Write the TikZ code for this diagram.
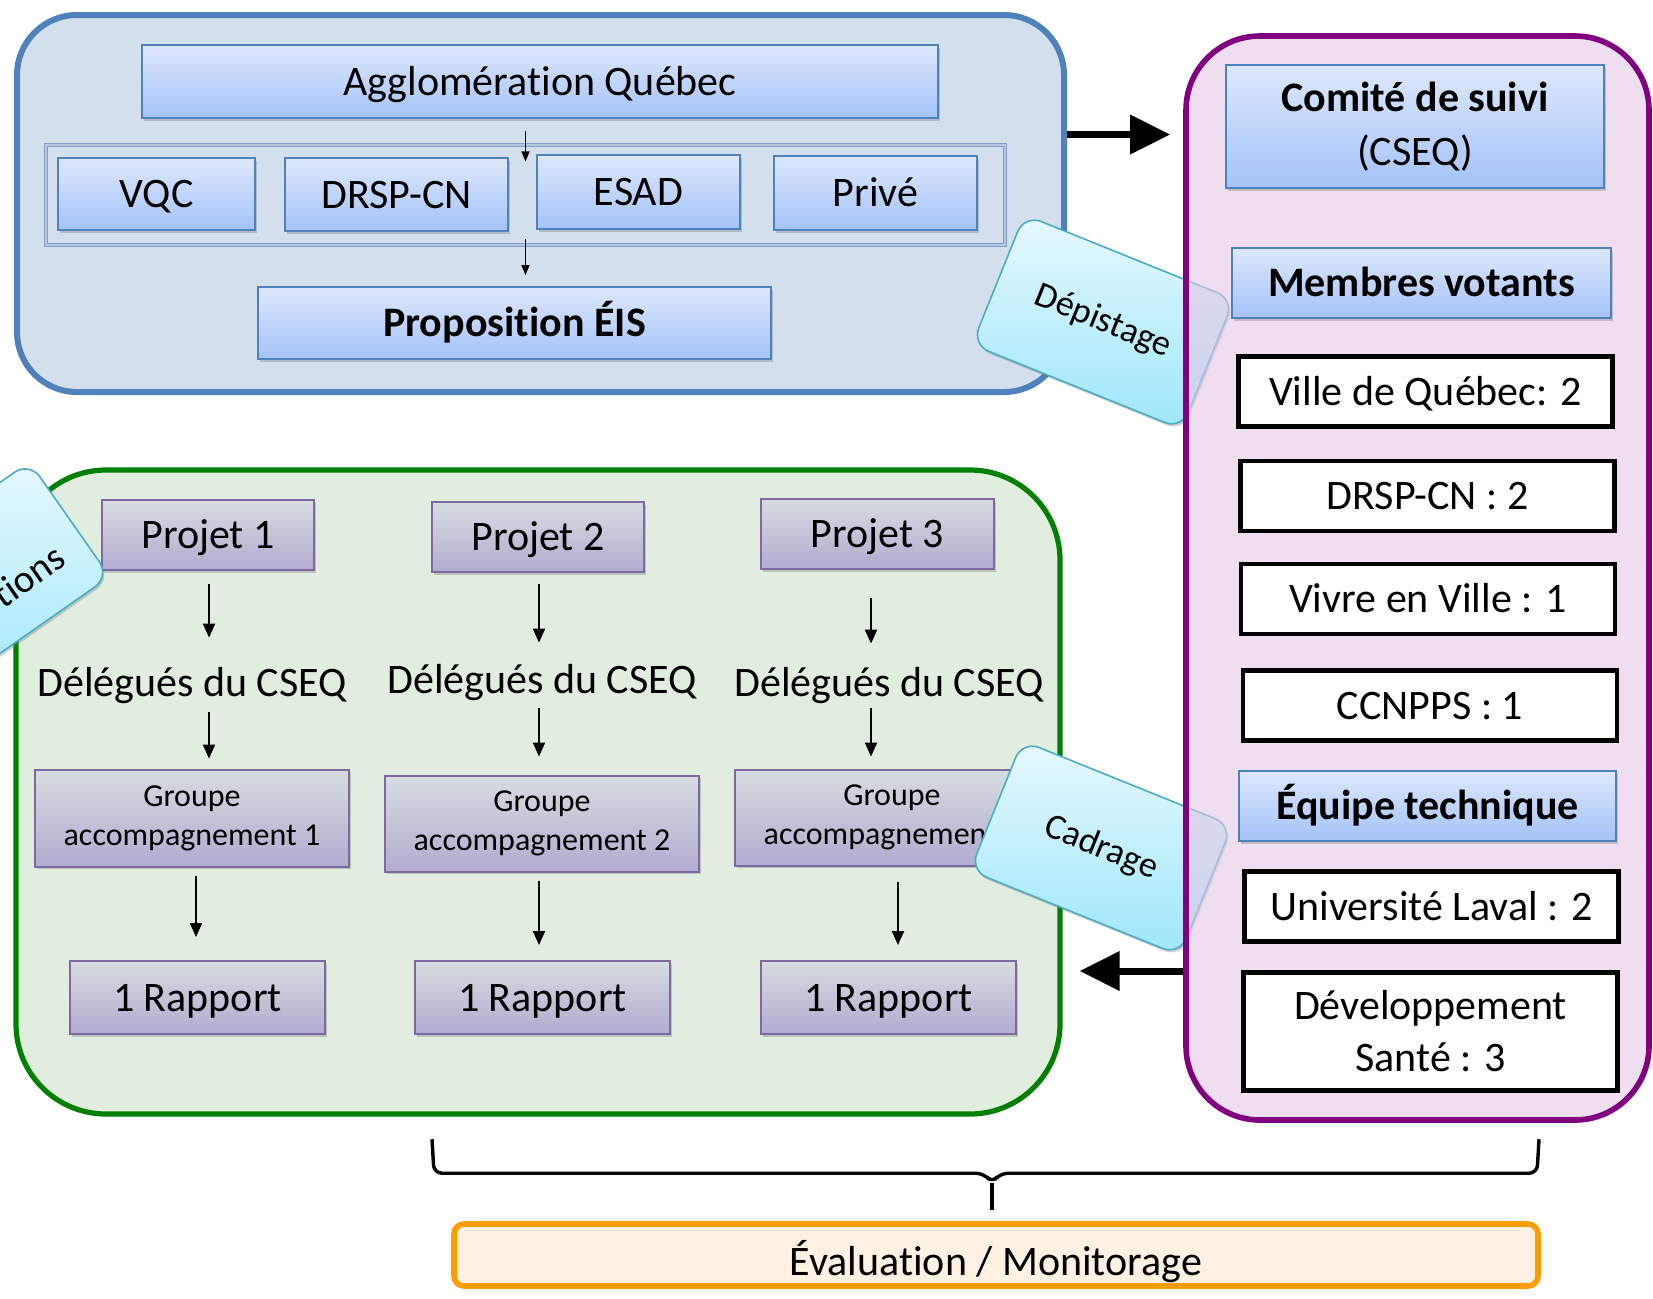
\documentclass[tikz,border=0pt]{standalone}
\usepackage{fontspec}
\setmainfont[Ligatures=NoCommon]{Carlito}
\usetikzlibrary{arrows.meta,calc,shadows}
\definecolor{eisblue}{HTML}{4F81BD}
\definecolor{eisbluebg}{HTML}{D4DFEE}
\definecolor{eisbluetop}{HTML}{DDE8FD}
\definecolor{eisbluebot}{HTML}{A4C2F8}
\definecolor{eisgrp}{HTML}{7F9DC6}
\definecolor{eispurple}{HTML}{800080}
\definecolor{eispink}{HTML}{E4C8E4}
\definecolor{eisgreen}{HTML}{008000}
\definecolor{eisgreenbg}{HTML}{E1EDDF}
\definecolor{eisgraytop}{HTML}{D7DCE0}
\definecolor{eisgraybot}{HTML}{B2ABD0}
\definecolor{eisgrayline}{HTML}{7E6AA0}
\definecolor{eiscyan}{HTML}{4BACC6}
\definecolor{eiscyantop}{HTML}{E6F9FE}
\definecolor{eiscyanbot}{HTML}{9EE6FA}
\definecolor{eisorange}{HTML}{FF9C00}
\definecolor{eisorangebg}{HTML}{FDF1E3}
\newcommand{\eisbig}{\fontsize{21}{26}\selectfont}
\newcommand{\eissmall}{\fontsize{16}{19.5}\selectfont}

\begin{document}
\begin{tikzpicture}[x=0.5pt,y=-0.5pt,
  softshadow/.style={drop shadow={shadow xshift=0.8pt,shadow yshift=-1.3pt,opacity=0.3,fill=black!60}},
  oneline/.style={text height=16pt,text depth=2.5pt},
  bluebox/.style={draw=eisblue,line width=1pt,top color=eisbluetop,bottom color=eisbluebot,
    font=\eisbig,align=center,inner sep=0pt,softshadow},
  bold/.style={font=\eisbig\bfseries},
  graybox/.style={draw=eisgrayline,line width=1pt,top color=eisgraytop,bottom color=eisgraybot,
    font=\eisbig,align=center,inner sep=0pt,softshadow},
  blackbox/.style={draw=black,line width=2.4pt,fill=white,font=\eisbig,align=center,
    inner sep=0pt,minimum width=187pt},
  stage/.style={draw=eiscyan,line width=0.8pt,top color=eiscyantop,bottom color=eiscyanbot,
    rounded corners=9pt,minimum width=113pt,minimum height=70pt,
    font=\fontsize{18}{22}\selectfont,softshadow},
  deleg/.style={font=\eisbig,minimum height=25pt,inner sep=0pt,oneline},
  smallarr/.style={-{Triangle[length=5pt,width=4pt]},line width=0.8pt},
  arr/.style={-{Triangle[length=7pt,width=6pt]},line width=1pt},
  bigarr/.style={-{Triangle[length=20pt,width=19pt]},line width=3.5pt},
  brace/.style={line width=1.7pt,rounded corners=4pt,line join=round}]
  \useasboundingbox (0,0) rectangle (1653,1298);
  \clip (0,0) rectangle (1653,1298);
  % panels
  \node[draw=eisblue,line width=3pt,fill=eisbluebg,rounded corners=30pt,inner sep=0pt,
    minimum width=523.5pt,minimum height=188.5pt] (blueC) at (540.5,203.5) {};
  \node[draw=eisgreen,line width=2.6pt,fill=eisgreenbg,rounded corners=45pt,inner sep=0pt,
    minimum width=522pt,minimum height=322pt] (greenC) at (538,792) {};
  % proposal
  \node[draw=eisgrp,line width=0.6pt,double=eisgrp!35!eisbluebg,double distance=0.7pt,inner sep=0pt,
    minimum width=479.5pt,minimum height=50pt] (grp) at (525.5,195) {};
  \node[bluebox,oneline,minimum width=398pt,minimum height=36.5pt] (agglo) at (540,81.5) {Agglomération Québec};
  \node[bluebox,oneline,minimum width=98.5pt,minimum height=36pt] (vqc) at (156.5,194) {VQC};
  \node[bluebox,oneline,minimum width=111.5pt,minimum height=36.5pt] (drsp) at (396.5,194.5) {DRSP-CN};
  \node[bluebox,oneline,minimum width=101.5pt,minimum height=37pt] (esad) at (638.5,192) {ESAD};
  \node[bluebox,oneline,minimum width=101.5pt,minimum height=37pt] (prive) at (875.5,193) {Privé};
  \node[bluebox,bold,oneline,minimum width=256.5pt,minimum height=36pt] (prop) at (514.5,323) {Proposition ÉIS};
  \draw[smallarr] ($(agglo.south -| grp.north)+(0,12)$) -- ($(grp.north)+(0,17)$);
  \draw[smallarr] ($(grp.south)+(0,-7)$) -- ($(prop.north -| grp.south)+(0,-11)$);
  % projects
  \node[graybox,oneline,minimum width=106pt,minimum height=35pt] (p1) at (208,535) {Projet 1};
  \node[graybox,oneline,minimum width=106pt,minimum height=35pt] (p2) at (538,537) {Projet 2};
  \node[graybox,oneline,minimum width=116.5pt,minimum height=35pt] (p3) at (877.5,534) {Projet 3};
  \node[deleg] (d1) at (192,683) {Délégués du CSEQ};
  \node[deleg] (d2) at (542,680) {Délégués du CSEQ};
  \node[deleg] (d3) at (889,683) {Délégués du CSEQ};
  \node[graybox,font=\eissmall,minimum width=157pt,minimum height=48.5pt] (g1) at (192,818) {Groupe\\accompagnement 1};
  \node[graybox,font=\eissmall,minimum width=157pt,minimum height=48pt] (g2) at (542,823.5) {Groupe\\accompagnement 2};
  \node[graybox,font=\eissmall,minimum width=157pt,minimum height=48pt] (g3) at (892,817.5) {Groupe\\accompagnement 3};
  \node[graybox,oneline,minimum width=127.5pt,minimum height=36.5pt] (r1) at (197.5,997.5) {1 Rapport};
  \node[graybox,oneline,minimum width=127.5pt,minimum height=36.5pt] (r2) at (542.5,997.5) {1 Rapport};
  \node[graybox,oneline,minimum width=127.5pt,minimum height=36.5pt] (r3) at (888.5,997.5) {1 Rapport};
  \draw[arr] ($(p1.south)+(1,13)$) -- ($(p1.south |- d1.north)+(1,-20)$);
  \draw[arr] ($(p2.south)+(1,11)$) -- ($(p2.south |- d2.north)+(1,-12)$);
  \draw[arr] ($(p3.south)+(-6.5,28)$) -- ($(p3.south |- d3.north)+(-6.5,-14)$);
  \draw[arr] ($(p1.south |- d1.south)+(1,4)$) -- ($(p1.south |- g1.north)+(1,-10)$);
  \draw[arr] ($(p2.south |- d2.south)+(1,3)$) -- ($(p2.south |- g2.north)+(1,-18)$);
  \draw[arr] ($(p3.south |- d3.south)+(-6.5,0)$) -- ($(p3.south |- g3.north)+(-6.5,-12)$);
  \draw[arr] ($(g1.south)+(4,8)$) -- ($(r1.north)+(-1.5,-23)$);
  \draw[arr] ($(g2.south)+(-3,8)$) -- ($(r2.north)+(-3.5,-15)$);
  \draw[arr] ($(g3.south)+(6,15)$) -- ($(r3.north)+(9.5,-15)$);
  % stages
  \node[stage,rotate=-22] (dep) at (1103,322) {Dépistage};
  \node[stage,rotate=-22] (cad) at (1101,848) {Cadrage};
  \node[stage,rotate=35,font=\fontsize{19.5}{23}\selectfont,text width=86pt,align=right,inner xsep=13.5pt,
    text height=36pt,text depth=0pt] (rec) at (-23,584) {tions};
  % committee
  \node[draw=eispurple,line width=2.8pt,fill=eispink,fill opacity=0.6,rounded corners=37pt,inner sep=0pt,
    minimum width=231.5pt,minimum height=542pt] (purpC) at (1417.5,578) {};
  \node[bluebox,minimum width=189pt,minimum height=61.5pt] (comite) at (1415,126.5) {\textbf{Comité de suivi}\\[1pt](CSEQ)};
  \node[bluebox,bold,oneline,minimum width=189.5pt,minimum height=35pt] (membres) at (1421.5,283) {Membres votants};
  \node[blackbox,oneline,minimum height=35pt] (ville) at (1425.5,391.5) {Ville de Québec: 2};
  \node[blackbox,oneline,minimum height=35pt] (drsp2) at (1427.5,496) {DRSP-CN : 2};
  \node[blackbox,oneline,minimum height=35pt] (vivre) at (1428,599) {Vivre en Ville : 1};
  \node[blackbox,oneline,minimum height=35pt] (ccnpps) at (1430,705.5) {CCNPPS : 1};
  \node[bluebox,bold,oneline,minimum width=188.5pt,minimum height=35pt] (equipe) at (1427.5,806) {Équipe technique};
  \node[blackbox,oneline,minimum height=35pt] (laval) at (1431.5,906.5) {Université Laval : 2};
  \node[blackbox,minimum height=59pt] (devsante) at (1430.5,1031.5) {Développement\\Santé : 3};
  \draw[bigarr] ($(blueC.east)+(0,-69)$) -- ($(purpC.west |- blueC.east)+(-13,-69)$);
  \draw[bigarr] ($(purpC.west)+(0,393)$) -- ($(greenC.east |- purpC.west)+(17,393)$);
  % evaluation
  \node[draw=eisorange,line width=2.8pt,fill=eisorangebg,rounded corners=5pt,inner sep=0pt,font=\eisbig,
    text height=21pt,text depth=0.1pt,minimum width=542pt,minimum height=31pt] (eval) at (996,1255) {Évaluation / Monitorage};
  \coordinate (btip) at ($(eval.north)+(-4,-38)$);
  \draw[brace] ($(btip)+(-560,-44)$) -- ($(btip)+(-558,-10)$) -- ($(btip)+(-8,-10)$) -- (btip)
    -- ($(btip)+(8,-10)$) -- ($(btip)+(545,-10)$) -- ($(btip)+(547,-44)$);
  \draw[brace] (btip) -- ($(eval.north)+(-4,-11)$);
\end{tikzpicture}
\end{document}
